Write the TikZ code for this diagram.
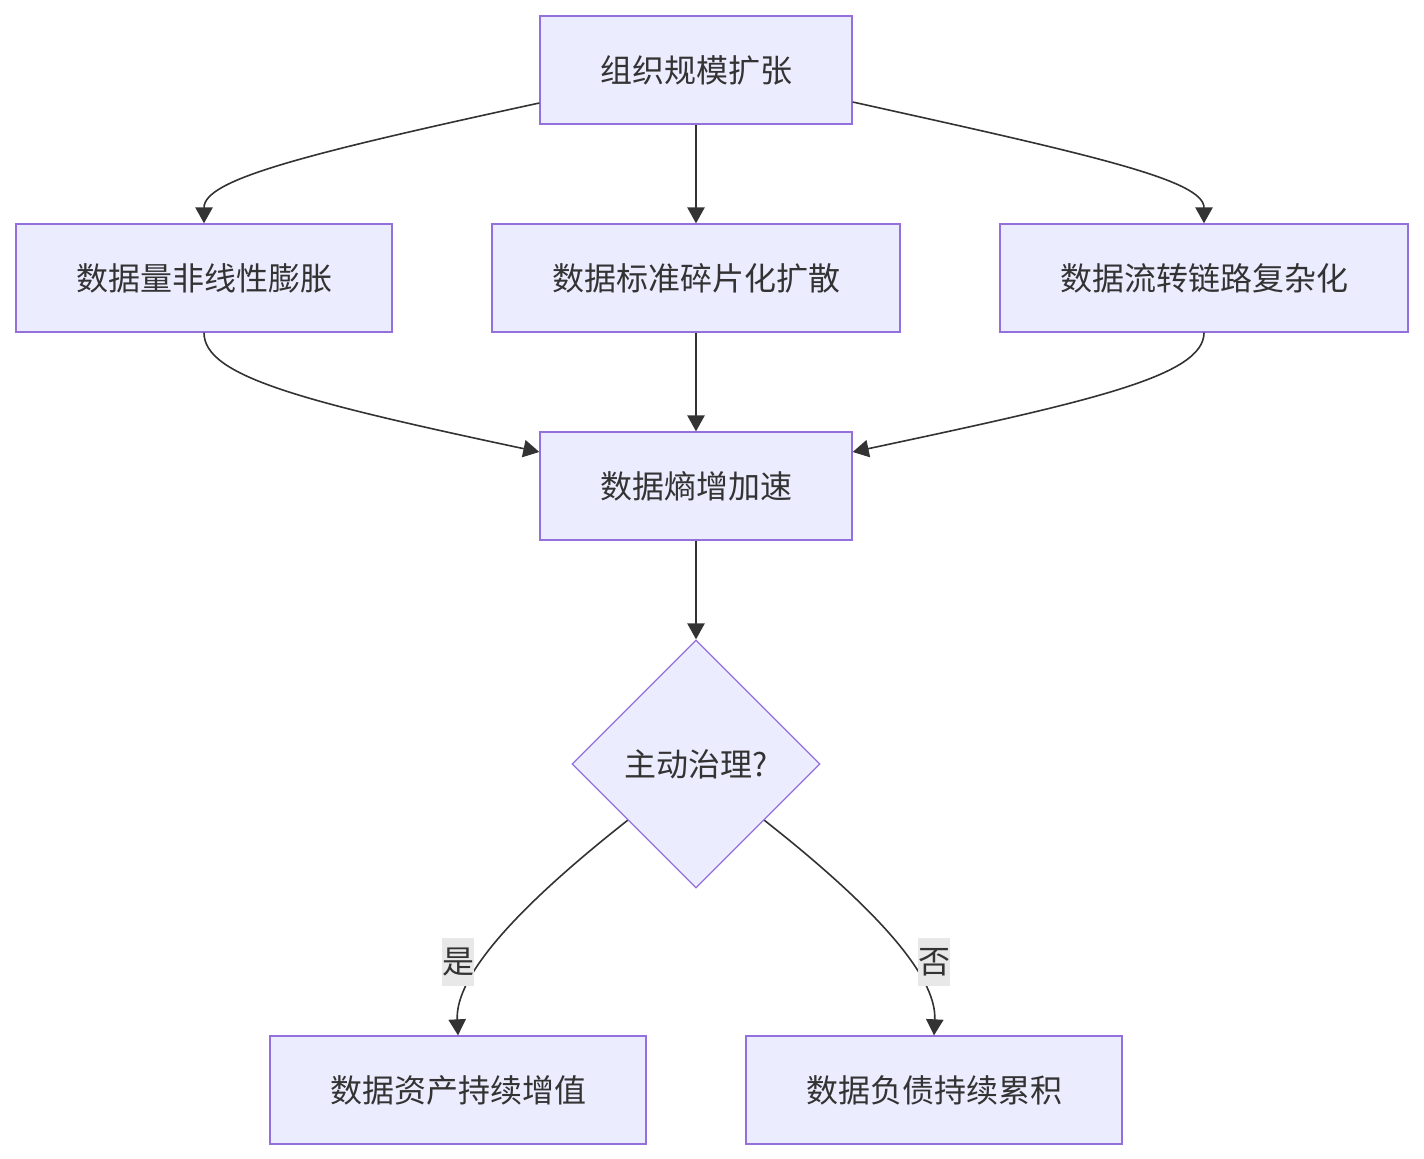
\documentclass[tikz,border=0pt]{standalone}
\usepackage{fontspec}
\setmainfont{Noto Sans CJK SC}
\usetikzlibrary{shapes.geometric,arrows.meta}
\definecolor{nodefill}{HTML}{ECECFF}
\definecolor{nodeline}{HTML}{9370DB}
\definecolor{txt}{HTML}{333333}
\definecolor{lblbg}{HTML}{E8E8E8}
\begin{document}
\begin{tikzpicture}[x=0.75pt,y=-0.75pt,
  box/.style={draw=nodeline,fill=nodefill,line width=1pt,minimum height=81pt,inner sep=0pt,text=txt,font=\fontsize{24pt}{28pt}\selectfont},
  decision/.style={diamond,aspect=1,draw=nodeline,fill=nodefill,line width=1pt,minimum width=186pt,minimum height=186pt,inner sep=0pt,text=txt,font=\fontsize{24pt}{28pt}\selectfont},
  edge/.style={draw=txt,line width=1.2pt,-{Triangle[length=12pt,width=13pt]}},
  lbl/.style={fill=lblbg,text=txt,inner sep=0pt,minimum width=24pt,minimum height=36pt,font=\fontsize{24pt}{28pt}\selectfont}]
\useasboundingbox (0,0) rectangle (1424,1159);
\node[box,minimum width=234pt] (top) at (696,70) {组织规模扩张};
\node[box,minimum width=282pt] (left) at (204,278) {数据量非线性膨胀};
\node[box,minimum width=306pt] (mid) at (696,278) {数据标准碎片化扩散};
\node[box,minimum width=306pt] (right) at (1204,278) {数据流转链路复杂化};
\node[box,minimum width=234pt] (ent) at (696,486) {数据熵增加速};
\node[box,minimum width=282pt] (yes) at (458,1090) {数据资产持续增值};
\node[box,minimum width=282pt] (no) at (934,1090) {数据负债持续累积};
\coordinate (dyl) at (628,820);
\coordinate (dyr) at (764,820);
\draw[edge] (dyl) .. controls (520,905) and (455,975) .. (yes.north);
\draw[edge] (dyr) .. controls (872,905) and (937,975) .. (no.north);
\node[decision] (dec) at (696,764) {主动治理?};
\node[lbl] (ly) at (458,962) {是};
\node[lbl] (ln) at (934,962) {否};
\draw[edge] (top.south) -- (mid.north);
\draw[edge] (mid.south) -- (ent.north);
\draw[edge] (ent.south) -- (dec.north);
\draw[edge] ([yshift=-0.75*33pt]top.west) .. controls (300,155) and (204,180) .. (left.north);
\draw[edge] ([yshift=-0.75*32pt]top.east) .. controls (1092,155) and (1204,180) .. (right.north);
\draw[edge] (left.south) .. controls (204,376) and (300,401) .. ([yshift=0.75*34pt]ent.west);
\draw[edge] (right.south) .. controls (1204,376) and (1092,401) .. ([yshift=0.75*34pt]ent.east);
\end{tikzpicture}
\end{document}
